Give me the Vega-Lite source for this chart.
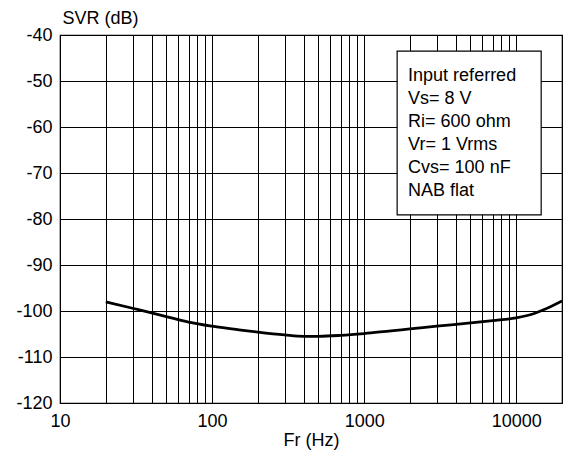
{
  "$schema": "https://vega.github.io/schema/vega-lite/v6.json",
  "width": 502,
  "height": 368,
  "autosize": "none",
  "padding": {"left": 60, "top": 35, "right": 2, "bottom": 57},
  "background": "white",
  "config": {
    "font": "Liberation Sans",
    "view": {"stroke": "black", "strokeWidth": 1.2},
    "axis": {
      "labelFont": "Liberation Sans",
      "titleFont": "Liberation Sans",
      "labelFontSize": 18,
      "titleFontSize": 18,
      "titleFontWeight": "normal",
      "labelColor": "black",
      "titleColor": "black",
      "gridColor": "black",
      "gridOpacity": 1,
      "gridWidth": 1,
      "ticks": false,
      "domain": false
    }
  },
  "layer": [
    {
      "data": {
        "values": [
          {"fr": 20, "svr": -98.0},
          {"fr": 30, "svr": -99.4},
          {"fr": 40, "svr": -100.4},
          {"fr": 50, "svr": -101.2},
          {"fr": 70, "svr": -102.4},
          {"fr": 100, "svr": -103.3},
          {"fr": 150, "svr": -104.1},
          {"fr": 200, "svr": -104.6},
          {"fr": 300, "svr": -105.2},
          {"fr": 400, "svr": -105.5},
          {"fr": 500, "svr": -105.5},
          {"fr": 700, "svr": -105.3},
          {"fr": 1000, "svr": -104.9},
          {"fr": 1500, "svr": -104.3},
          {"fr": 2000, "svr": -103.9},
          {"fr": 3000, "svr": -103.3},
          {"fr": 5000, "svr": -102.6},
          {"fr": 7000, "svr": -102.1},
          {"fr": 10000, "svr": -101.5},
          {"fr": 13000, "svr": -100.6},
          {"fr": 15000, "svr": -99.8},
          {"fr": 20000, "svr": -97.8}
        ]
      },
      "mark": {"type": "line", "color": "black", "strokeWidth": 2.8, "interpolate": "monotone", "clip": true},
      "encoding": {
        "x": {
          "field": "fr", "type": "quantitative",
          "scale": {"type": "log", "domain": [10, 20000], "nice": false},
          "axis": {
            "title": "Fr (Hz)",
            "values": [10,20,30,40,50,60,70,80,90,100,200,300,400,500,600,700,800,900,1000,2000,3000,4000,5000,6000,7000,8000,9000,10000,20000],
            "labelExpr": "indexof([10,100,1000,10000], datum.value) >= 0 ? format(datum.value, 'd') : ''",
            "labelPadding": 9,
            "titlePadding": 1,
            "labelFlush": false,
            "labelOverlap": false
          }
        },
        "y": {
          "field": "svr", "type": "quantitative",
          "scale": {"domain": [-120, -40], "nice": false, "zero": false},
          "axis": {
            "title": "SVR (dB)",
            "values": [-120,-110,-100,-90,-80,-70,-60,-50,-40],
            "labelExpr": "'-' + format(abs(datum.value), 'd')",
            "labelPadding": 8,
            "titleAngle": 0,
            "titleAlign": "left",
            "titleBaseline": "middle",
            "titleX": 2,
            "titleY": -17
          }
        }
      }
    },
    {
      "data": {"values": [{"note": "legend box"}]},
      "mark": {"type": "rect", "fill": "white", "stroke": "black", "strokeWidth": 1.2},
      "encoding": {
        "x": {"datum": 1648, "type": "quantitative"},
        "x2": {"datum": 14590},
        "y": {"datum": -43.5, "type": "quantitative"},
        "y2": {"datum": -79.1}
      }
    },
    {
      "data": {"values": [{"note": "legend text"}]},
      "mark": {"type": "text", "align": "left", "baseline": "top", "fontSize": 18, "lineHeight": 23, "font": "Liberation Sans", "fill": "black"},
      "encoding": {
        "x": {"datum": 1945, "type": "quantitative"},
        "y": {"datum": -47.0, "type": "quantitative"},
        "text": {"value": ["Input referred", "Vs= 8 V", "Ri= 600 ohm", "Vr= 1 Vrms", "Cvs= 100 nF", "NAB flat"]}
      }
    }
  ]
}
